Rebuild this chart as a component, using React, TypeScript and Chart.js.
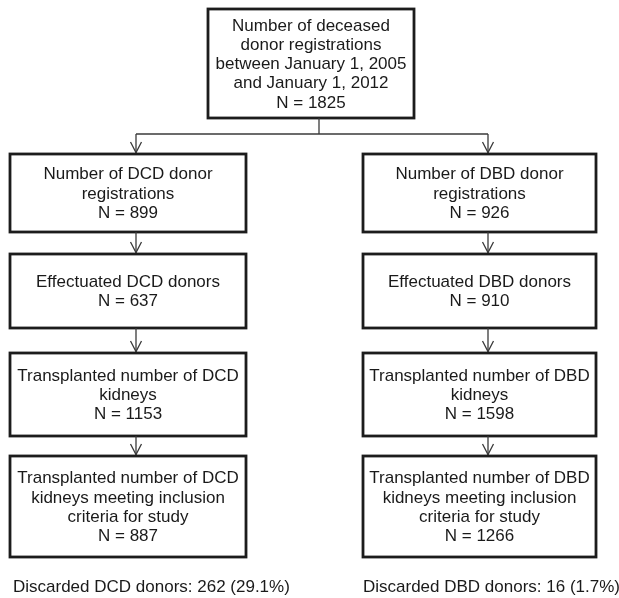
import React, { useEffect, useRef } from "react";
import { Chart, registerables } from "chart.js";

Chart.register(...registerables);

// ---- data ----
const TOP_LINES = ["Number of deceased", "donor registrations", "between January 1, 2005", "and January 1, 2012"];
const TOP_N = 1825;

const DCD_LABELS = [
  ["Number of DCD donor", "registrations"],
  ["Effectuated DCD donors"],
  ["Transplanted number of DCD", "kidneys"],
  ["Transplanted number of DCD", "kidneys meeting inclusion", "criteria for study"],
];
const DCD_N = [899, 637, 1153, 887];

const DBD_LABELS = [
  ["Number of DBD donor", "registrations"],
  ["Effectuated DBD donors"],
  ["Transplanted number of DBD", "kidneys"],
  ["Transplanted number of DBD", "kidneys meeting inclusion", "criteria for study"],
];
const DBD_N = [926, 910, 1598, 1266];

const DISCARDED_GROUPS = ["DCD", "DBD"];
const DISCARDED_COUNTS = [262, 16];
const DISCARDED_PCT = ["29.1", "1.7"];

// ---- layout (in a 0..619 x 0..598 coordinate space) ----
const W = 619;
const H = 598;
const TOP_BOX = { x0: 208, x1: 414, y0: 9, y1: 118 };
const COLS = [
  { x0: 10, x1: 246, conn: 136, textX: 13 },
  { x0: 363, x1: 596, conn: 488, textX: 363 },
];
const ROWS = [
  { y0: 154, y1: 232 },
  { y0: 254, y1: 328 },
  { y0: 353, y1: 436 },
  { y0: 456, y1: 557 },
];
const TOP_CONN_X = 319;
const SPLIT_Y = 134;
const FOOT_Y = 587;
const LINE_H = 19.3;
const FONT = '17px "Liberation Sans", Arial, sans-serif';
const TEXT_COLOR = "#1a1a1a";
const BOX_COLOR = "#1c1c1c";
const CONN_COLOR = "#3a3a3a";

const flowPlugin = {
  id: "flow",
  afterDraw(chart: any) {
    const { ctx, scales } = chart;
    const px = (v: number) => scales.x.getPixelForValue(v);
    const py = (v: number) => scales.y.getPixelForValue(v);

    const box = (b: { x0: number; x1: number; y0: number; y1: number }, lines: string[]) => {
      ctx.save();
      ctx.strokeStyle = BOX_COLOR;
      ctx.lineWidth = 2.8;
      ctx.strokeRect(px(b.x0), py(b.y0), px(b.x1) - px(b.x0), py(b.y1) - py(b.y0));
      ctx.fillStyle = TEXT_COLOR;
      ctx.font = FONT;
      ctx.textAlign = "center";
      ctx.textBaseline = "middle";
      const cx = px((b.x0 + b.x1) / 2);
      const cy = py((b.y0 + b.y1) / 2);
      const n = lines.length;
      lines.forEach((t, i) => {
        ctx.fillText(t, cx, cy + (i - (n - 1) / 2) * LINE_H + 1);
      });
      ctx.restore();
    };

    const line = (x0: number, y0: number, x1: number, y1: number) => {
      ctx.save();
      ctx.strokeStyle = CONN_COLOR;
      ctx.lineWidth = 1.3;
      ctx.beginPath();
      ctx.moveTo(px(x0), py(y0));
      ctx.lineTo(px(x1), py(y1));
      ctx.stroke();
      ctx.restore();
    };

    const arrow = (x: number, y0: number, y1: number) => {
      line(x, y0, x, y1);
      ctx.save();
      ctx.strokeStyle = CONN_COLOR;
      ctx.lineWidth = 1.3;
      ctx.beginPath();
      ctx.moveTo(px(x - 5.5), py(y1 - 12));
      ctx.lineTo(px(x), py(y1 - 1.5));
      ctx.lineTo(px(x + 5.5), py(y1 - 12));
      ctx.stroke();
      ctx.restore();
    };

    // top box
    box(TOP_BOX, [...TOP_LINES, `N = ${TOP_N}`]);
    line(TOP_CONN_X, TOP_BOX.y1, TOP_CONN_X, SPLIT_Y);
    line(COLS[0].conn, SPLIT_Y, COLS[1].conn, SPLIT_Y);

    const groups = [
      { labels: DCD_LABELS, ns: DCD_N },
      { labels: DBD_LABELS, ns: DBD_N },
    ];
    groups.forEach((g, ci) => {
      const c = COLS[ci];
      arrow(c.conn, SPLIT_Y, ROWS[0].y0);
      ROWS.forEach((r, ri) => {
        box({ x0: c.x0, x1: c.x1, y0: r.y0, y1: r.y1 }, [...g.labels[ri], `N = ${g.ns[ri]}`]);
        if (ri < ROWS.length - 1) arrow(c.conn, r.y1, ROWS[ri + 1].y0);
      });
      ctx.save();
      ctx.fillStyle = TEXT_COLOR;
      ctx.font = FONT;
      ctx.textAlign = "left";
      ctx.textBaseline = "middle";
      ctx.fillText(
        `Discarded ${DISCARDED_GROUPS[ci]} donors: ${DISCARDED_COUNTS[ci]} (${DISCARDED_PCT[ci]}%)`,
        px(c.textX),
        py(FOOT_Y)
      );
      ctx.restore();
    });
  },
};

export default function App() {
  const ref = useRef<HTMLCanvasElement | null>(null);
  useEffect(() => {
    document.body.style.margin = "0";
    document.body.style.background = "#ffffff";
    const canvas = ref.current!;
    const chart = new Chart(canvas, {
      type: "scatter",
      data: { datasets: [{ data: [], pointRadius: 0 }] },
      options: {
        animation: false,
        responsive: false,
        devicePixelRatio: 1,
        layout: { padding: 0 },
        plugins: { legend: { display: false }, tooltip: { enabled: false } },
        scales: {
          x: { type: "linear", min: 0, max: W, display: false },
          y: { type: "linear", min: 0, max: H, reverse: true, display: false },
        },
      },
      plugins: [flowPlugin],
    });
    return () => chart.destroy();
  }, []);
  return (
    <div style={{ width: W, height: H, background: "#fff" }}>
      <canvas ref={ref} width={W} height={H} style={{ display: "block" }} />
    </div>
  );
}
